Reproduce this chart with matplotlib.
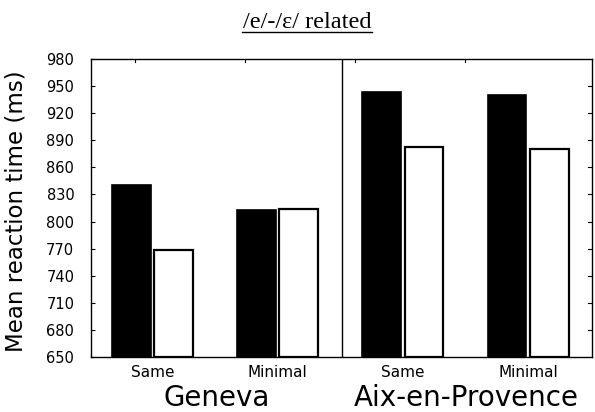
import matplotlib
matplotlib.use("Agg")
import matplotlib.pyplot as plt
from matplotlib.lines import Line2D

# values (ms)
sites = ["Geneva", "Aix-en-Provence"]
conditions = ["Same", "Minimal"]
black_vals = [841, 813, 943, 940]
white_vals = [768, 814, 882, 880]
y_ticks = list(range(650, 981, 30))

fig = plt.figure(figsize=(5.95, 4.12), dpi=100)
ax = fig.add_axes([91 / 595, 1 - 357 / 412, 501 / 595, 298 / 412])

centers = [0.49, 1.49, 2.49, 3.49]
w = 0.31
off = 0.168
for c, b, wv in zip(centers, black_vals, white_vals):
    ax.bar(c - off, b - 650, bottom=650, width=w, color="black", edgecolor="black", linewidth=1.2)
    ax.bar(c + off, wv - 650, bottom=650, width=w, color="white", edgecolor="black", linewidth=1.6)

ax.set_xlim(0, 4)
ax.set_ylim(650, 980)
ax.axvline(2, color="black", linewidth=1.0)

ax.set_yticks(y_ticks)
ax.set_yticklabels([str(t) for t in y_ticks], family="DejaVu Sans", fontsize=10.5)
ax.tick_params(axis="y", direction="in", length=3, width=0.8, pad=12, right=False)
ax.set_xticks([])
for s in ax.spines.values():
    s.set_linewidth(1.0)

# inner ticks on the right side of the Aix panel
for t in y_ticks[1:-1]:
    ax.plot([3.97, 4.0], [t, t], color="black", linewidth=0.8, clip_on=False)
# small ticks along the top
for xt in [0.35, 1.23, 2.11, 2.99]:
    ax.plot([xt, xt], [980, 977], color="black", linewidth=0.8)

ax.set_ylabel("Mean reaction time (ms)", family="DejaVu Sans", fontsize=16.5, va="center")
ax.yaxis.set_label_coords(-75 / 501, 0.49)

# condition and site labels
for i, c in enumerate(centers):
    ax.text(c, 628, conditions[i % 2], ha="center", va="baseline", family="DejaVu Sans", fontsize=11)
for i, s in enumerate(sites):
    ax.text(1 + 2 * i, 596, s, ha="center", va="baseline", family="DejaVu Sans", fontsize=20)

# underlined serif title
fig.text(307 / 595, 1 - 28 / 412, "/e/-/\u025b/ related", ha="center", va="baseline",
         family="Liberation Serif", fontsize=17.5)
fig.add_artist(Line2D([242 / 595, 372 / 595], [1 - 32 / 412, 1 - 32 / 412],
                      color="black", linewidth=1.0, transform=fig.transFigure))

fig.savefig("out.png", dpi=100)
